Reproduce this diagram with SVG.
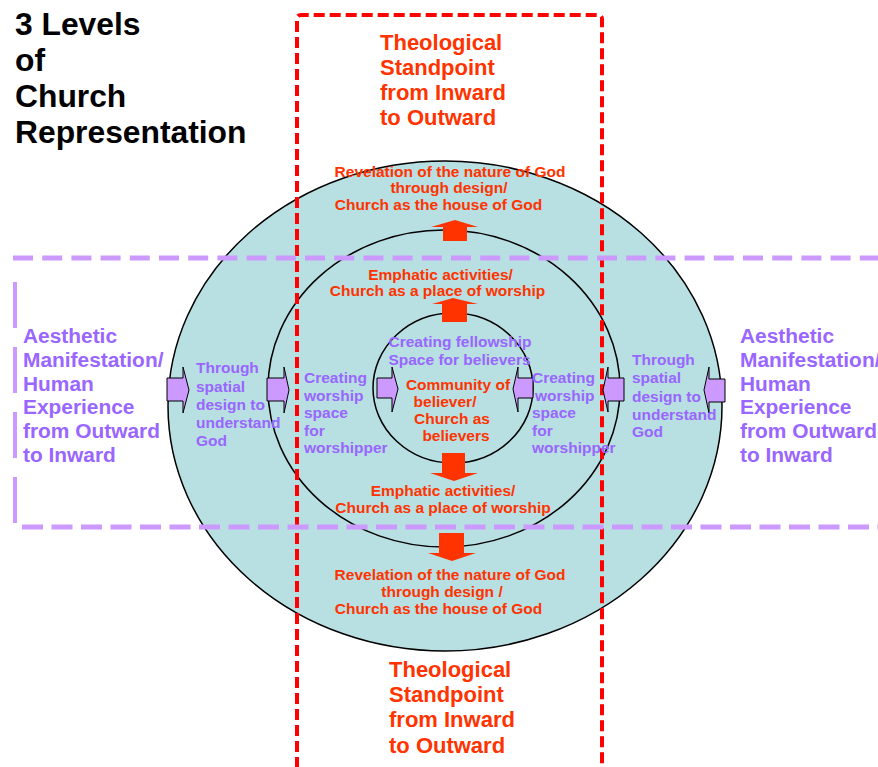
<svg xmlns="http://www.w3.org/2000/svg" width="878" height="767" viewBox="0 0 878 767">
<defs>
<style>
text{font-family:"Liberation Sans",Arial,sans-serif;font-weight:bold}
.ring{fill:#B8DFE2;stroke:#000;stroke-width:1.5}
.title{font-size:31.8px;fill:#000}
.theo{font-size:22px;fill:#FF3300}
.aes{font-size:20.9px;fill:#9966FF}
.r{font-size:15.5px;fill:#FF3300}
.p{font-size:15.5px;fill:#9966FF}
.c{text-anchor:middle}
.red{fill:none;stroke:#FF0000;stroke-width:4;stroke-dasharray:11 5}
.pur{fill:none;stroke:#CC99FF}
.ra{fill:#FF3300}
.pa{fill:#CC99FF;stroke:#000;stroke-width:1}
</style>
</defs>
<rect width="878" height="767" fill="#fff"/>
<g id="outer-ring"><ellipse class="ring" cx="445" cy="406" rx="277" ry="245"/></g>
<g id="middle-ring"><ellipse class="ring" cx="444" cy="388.5" rx="176" ry="158.5"/></g>
<g id="inner-ring"><ellipse class="ring" cx="453" cy="388" rx="80" ry="75"/></g>
<g id="frames">
<path class="red" d="M297,800 V19 Q297,15 301,15 H598 Q602,15 602,19 V800"/>
<line class="pur" x1="13" y1="258" x2="880" y2="258" stroke-width="5" stroke-dasharray="20 9.2"/>
<line class="pur" x1="22" y1="527" x2="880" y2="527" stroke-width="5" stroke-dasharray="21 8.5"/>
<line class="pur" x1="15" y1="282" x2="15" y2="525" stroke-width="4" stroke-dasharray="46 19"/>
</g>
<g id="connectors">
<polygon class="ra" points="443,241 443,227 431,227 455,220 478,227 467,227 467,241"/>
<polygon class="ra" points="442,322 442,304 432,304 453,298 478,304 467,304 467,322"/>
<polygon class="ra" points="442,453 465,453 465,473 478,473 454,481 430,473 442,473"/>
<polygon class="ra" points="439,533 464,533 464,553 476,553 452,561 428,553 439,553"/>
<polygon class="pa" points="167,378 183,378 183,367 189,390 183,413 183,401 167,401"/>
<polygon class="pa" points="267,378 284,378 284,367 289,390 284,413 284,401 267,401"/>
<polygon class="pa" points="377,378 392,378 392,367 398,389 392,412 392,398 377,398"/>
<polygon class="pa" points="533,378 518,378 518,367 513,389 518,412 518,398 533,398"/>
<polygon class="pa" points="624,378 608,378 608,367 603,390 608,412 608,401 624,401"/>
<polygon class="pa" points="725,379 709,379 709,367 704,390 709,413 709,402 725,402"/>
</g>
<g id="title">
<text class="title" x="15" y="35">3 Levels</text>
<text class="title" x="15" y="71">of</text>
<text class="title" x="15" y="107">Church</text>
<text class="title" x="15" y="143">Representation</text>
</g>
<g id="theological-top">
<text class="theo" x="380" y="50">Theological</text>
<text class="theo" x="380" y="75">Standpoint</text>
<text class="theo" x="380" y="100">from Inward</text>
<text class="theo" x="380" y="125">to Outward</text>
</g>
<g id="theological-bottom">
<text class="theo" x="389" y="677">Theological</text>
<text class="theo" x="389" y="702">Standpoint</text>
<text class="theo" x="389" y="727">from Inward</text>
<text class="theo" x="389" y="753">to Outward</text>
</g>
<g id="aesthetic-left">
<text class="aes" x="23" y="343">Aesthetic</text>
<text class="aes" x="23" y="367">Manifestation/</text>
<text class="aes" x="23" y="391">Human</text>
<text class="aes" x="23" y="414">Experience</text>
<text class="aes" x="23" y="438">from Outward</text>
<text class="aes" x="23" y="462">to Inward</text>
</g>
<g id="aesthetic-right">
<text class="aes" x="740" y="343">Aesthetic</text>
<text class="aes" x="740" y="367">Manifestation/</text>
<text class="aes" x="740" y="391">Human</text>
<text class="aes" x="740" y="414">Experience</text>
<text class="aes" x="740" y="438">from Outward</text>
<text class="aes" x="740" y="462">to Inward</text>
</g>
<g id="outer-top-label">
<text class="r c" x="450" y="177">Revelation of the nature of God</text>
<text class="r c" x="449" y="193">through design/</text>
<text class="r c" x="438.5" y="210">Church as the house of God</text>
</g>
<g id="middle-top-label">
<text class="r c" x="440.5" y="280">Emphatic activities/</text>
<text class="r c" x="437.5" y="295.5">Church as a place of worship</text>
</g>
<g id="inner-label">
<text class="p c" x="460" y="347">Creating fellowship</text>
<text class="p c" x="459.5" y="365">Space for believers</text>
<text class="r c" x="458" y="390">Community of</text>
<text class="r c" x="445" y="407">believer/</text>
<text class="r c" x="452" y="424">Church as</text>
<text class="r c" x="456" y="441">believers</text>
</g>
<g id="middle-bottom-label">
<text class="r c" x="443" y="496">Emphatic activities/</text>
<text class="r c" x="443" y="512.5">Church as a place of worship</text>
</g>
<g id="outer-bottom-label">
<text class="r c" x="450" y="580">Revelation of the nature of God</text>
<text class="r c" x="442" y="597">through design /</text>
<text class="r c" x="438.5" y="614">Church as the house of God</text>
</g>
<g id="outer-left-label">
<text class="p" x="196" y="373">Through</text>
<text class="p" x="196" y="392">spatial</text>
<text class="p" x="196" y="410">design to</text>
<text class="p" x="196" y="428">understand</text>
<text class="p" x="196" y="446">God</text>
</g>
<g id="middle-left-label">
<text class="p" x="304" y="383">Creating</text>
<text class="p" x="304" y="401">worship</text>
<text class="p" x="304" y="418">space</text>
<text class="p" x="304" y="436">for</text>
<text class="p" x="304" y="453">worshipper</text>
</g>
<g id="middle-right-label">
<text class="p" x="532" y="383">Creating</text>
<text class="p" x="535" y="401">worship</text>
<text class="p" x="532" y="418">space</text>
<text class="p" x="532" y="436">for</text>
<text class="p" x="532" y="453">worshipper</text>
</g>
<g id="outer-right-label">
<text class="p" x="632" y="365">Through</text>
<text class="p" x="632" y="383">spatial</text>
<text class="p" x="632" y="402">design to</text>
<text class="p" x="632" y="420">understand</text>
<text class="p" x="632" y="437">God</text>
</g>
</svg>
